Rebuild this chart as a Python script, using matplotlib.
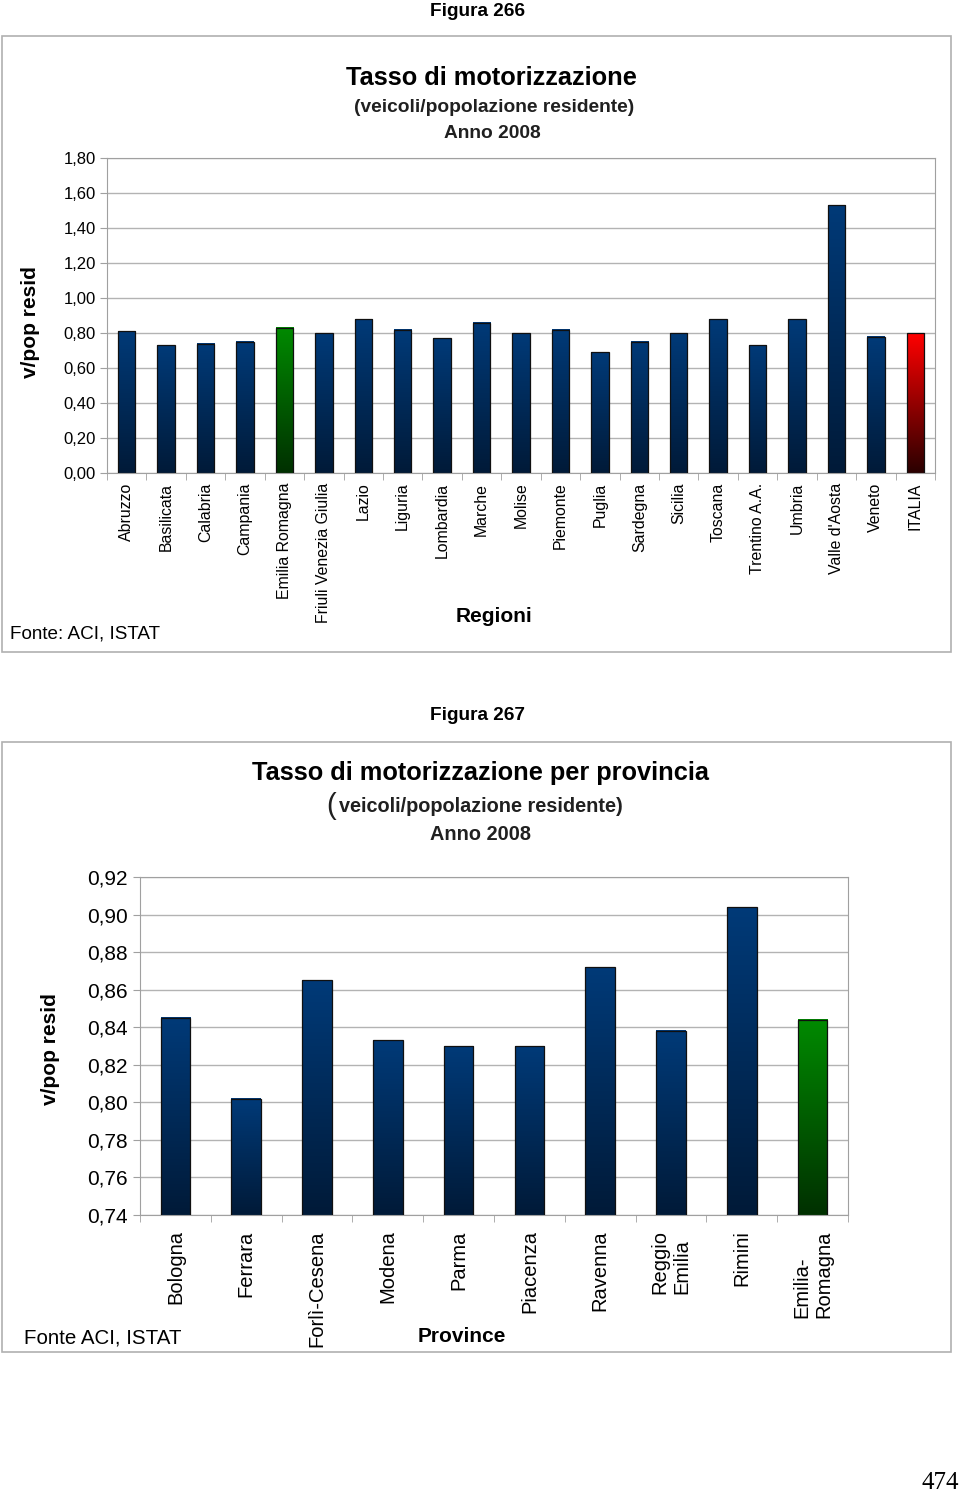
import numpy as np
import matplotlib
matplotlib.use('Agg')
import matplotlib.pyplot as plt
from matplotlib.colors import LinearSegmentedColormap
from matplotlib.patches import Rectangle

plt.rcParams['font.family'] = ['Liberation Sans', 'DejaVu Sans']

# Figura 266 - regioni
regioni = ['Abruzzo', 'Basilicata', 'Calabria', 'Campania', 'Emilia Romagna',
           'Friuli Venezia Giulia', 'Lazio', 'Liguria', 'Lombardia', 'Marche',
           'Molise', 'Piemonte', 'Puglia', 'Sardegna', 'Sicilia', 'Toscana',
           'Trentino A.A.', 'Umbria', "Valle d'Aosta", 'Veneto', 'ITALIA']
tasso_regioni = [0.81, 0.73, 0.74, 0.75, 0.83, 0.80, 0.88, 0.82, 0.77, 0.86,
                 0.80, 0.82, 0.69, 0.75, 0.80, 0.88, 0.73, 0.88, 1.53, 0.78, 0.80]
colori_regioni = ['blue'] * 21
colori_regioni[4] = 'green'
colori_regioni[20] = 'red'
yticks_1 = [0.0, 0.2, 0.4, 0.6, 0.8, 1.0, 1.2, 1.4, 1.6, 1.8]

# Figura 267 - province Emilia-Romagna
province = ['Bologna', 'Ferrara', 'Forlì-Cesena', 'Modena', 'Parma', 'Piacenza',
            'Ravenna', 'Reggio\nEmilia', 'Rimini', 'Emilia-\nRomagna']
tasso_province = [0.845, 0.802, 0.865, 0.833, 0.830, 0.830, 0.872, 0.838, 0.904, 0.844]
colori_province = ['blue'] * 9 + ['green']
yticks_2 = [0.74, 0.76, 0.78, 0.80, 0.82, 0.84, 0.86, 0.88, 0.90, 0.92]

cmaps = {
    'blue': LinearSegmentedColormap.from_list('b', ['#001a38', '#003a78']),
    'green': LinearSegmentedColormap.from_list('g', ['#003000', '#008a00']),
    'red': LinearSegmentedColormap.from_list('r', ['#2a0000', '#ff0000']),
}

W, H = 960, 1495
fig = plt.figure(figsize=(W / 100, H / 100), dpi=100)


def px_axes(x0, y0, x1, y1):
    return fig.add_axes([x0 / W, 1 - y1 / H, (x1 - x0) / W, (y1 - y0) / H])


def px_text(x, y, s, **kw):
    fig.text(x / W, 1 - y / H, s, **kw)


def box(x0, y0, x1, y1):
    fig.patches.append(Rectangle((x0 / W, 1 - y1 / H), (x1 - x0) / W, (y1 - y0) / H,
                                 transform=fig.transFigure, fill=False,
                                 edgecolor='#b0b0b0', linewidth=1.2))


def gradient_bars(ax, values, colors, width, ymin, ymax):
    x = np.arange(len(values))
    bars = ax.bar(x, values, width=width, facecolor='none', edgecolor='#101010',
                  linewidth=0.9, zorder=3)
    grad = np.linspace(0, 1, 256).reshape(-1, 1)
    for b, c in zip(bars, colors):
        top = b.get_height()
        ax.imshow(grad, extent=[b.get_x(), b.get_x() + b.get_width(), ymin, top],
                  origin='lower', aspect='auto', cmap=cmaps[c], zorder=2)
    ax.set_xlim(-0.5, len(values) - 0.5)
    ax.set_ylim(ymin, ymax)
    return x


def style_axes(ax, x, labels, yticks, fs_y, fs_x, pad_x, pad_y):
    ax.grid(axis='y', color='#b3b3b3', linewidth=1, zorder=0)
    ax.set_axisbelow(True)
    for s in ax.spines.values():
        s.set_color('#a0a0a0')
    ax.set_yticks(yticks)
    ax.set_yticklabels([f'{v:.2f}'.replace('.', ',') for v in yticks], fontsize=fs_y)
    ax.tick_params(axis='y', length=5, color='#a0a0a0', pad=pad_y)
    ax.set_xticks(x)
    ax.set_xticklabels(labels, rotation=90, fontsize=fs_x, va='top', ha='center',
                       multialignment='left')
    ax.tick_params(axis='x', length=0, pad=pad_x)
    ax.set_xticks(np.arange(len(x) + 1) - 0.5, minor=True)
    ax.tick_params(axis='x', which='minor', length=5, color='#a0a0a0')


# ---- Figura 266 ----
px_text(478, 11, 'Figura 266', ha='center', va='center', fontsize=13.7, fontweight='bold')
box(2, 36, 951, 652)
px_text(491, 78, 'Tasso di motorizzazione', ha='center', va='center', fontsize=18.3,
        fontweight='bold')
px_text(494, 108, '(veicoli/popolazione residente)', ha='center', va='center',
        fontsize=13.8, fontweight='bold', color='#202020')
px_text(492, 133, 'Anno 2008', ha='center', va='center', fontsize=13.8, fontweight='bold',
        color='#202020')

ax1 = px_axes(107, 158, 935, 473)
x1 = gradient_bars(ax1, tasso_regioni, colori_regioni, 0.44, 0, 1.8)
style_axes(ax1, x1, regioni, yticks_1, 12, 11.4, 7, 3)
px_text(30, 322, 'v/pop resid', ha='center', va='center', rotation=90, fontsize=15,
        fontweight='bold')
px_text(494, 617, 'Regioni', ha='center', va='center', fontsize=15, fontweight='bold')
px_text(10, 634, 'Fonte: ACI, ISTAT', ha='left', va='center', fontsize=13.6)

# ---- Figura 267 ----
px_text(478, 716, 'Figura 267', ha='center', va='center', fontsize=13.7, fontweight='bold')
box(2, 742, 951, 1352)
px_text(480, 773, 'Tasso di motorizzazione per provincia', ha='center', va='center',
        fontsize=18.3, fontweight='bold')
px_text(326, 806, '(', ha='left', va='center', fontsize=21, color='#202020')
px_text(339, 807, 'veicoli/popolazione residente)', ha='left', va='center',
        fontsize=14.3, fontweight='bold', color='#202020')
px_text(480, 834, 'Anno 2008', ha='center', va='center', fontsize=14.3, fontweight='bold',
        color='#202020')

ax2 = px_axes(140, 877, 848, 1215)
x2 = gradient_bars(ax2, tasso_province, colori_province, 0.42, 0.74, 0.92)
style_axes(ax2, x2, province, yticks_2, 15, 14.5, 11, 4)
px_text(50, 1049, 'v/pop resid', ha='center', va='center', rotation=90, fontsize=15,
        fontweight='bold')
px_text(462, 1336, 'Province', ha='center', va='center', fontsize=15, fontweight='bold')
px_text(24, 1338, 'Fonte ACI, ISTAT', ha='left', va='center', fontsize=14.8)

px_text(940, 1483, '474', ha='center', va='center', fontsize=18,
        family=['Liberation Serif', 'DejaVu Serif'])

fig.savefig('out.png', dpi=100)
